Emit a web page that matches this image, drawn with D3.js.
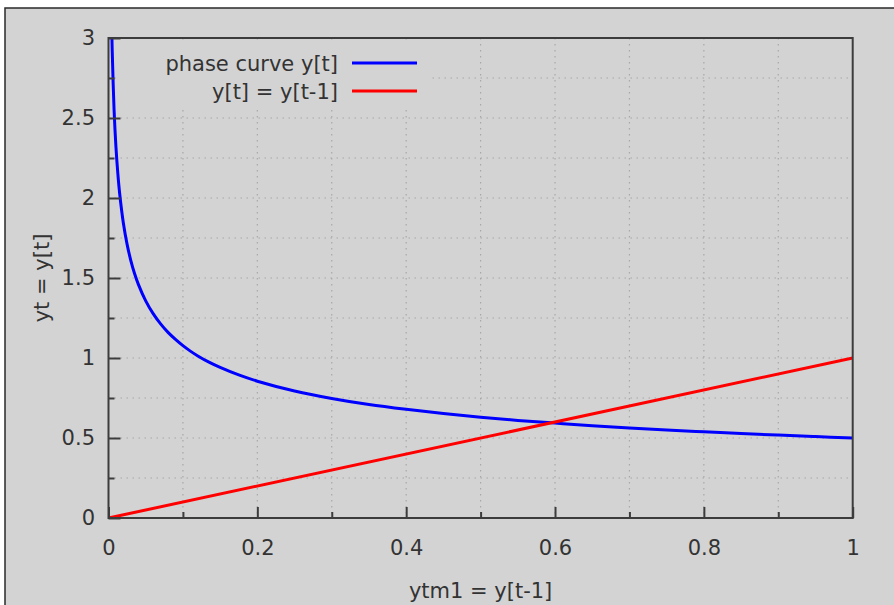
<!DOCTYPE html>
<html>
<head>
<meta charset="utf-8">
<script src="https://cdn.jsdelivr.net/npm/d3@7"></script>
<style>
  html, body { margin: 0; padding: 0; background: #ffffff; }
  svg { display: block; }
  text { font-family: "DejaVu Sans", sans-serif; fill: #333333; }
</style>
</head>
<body>
<div id="chart"></div>
<script>
// ---- data ----
const phaseX = [0.0045, 0.005, 0.0075, 0.01, 0.0125, 0.015, 0.02, 0.025, 0.03, 0.035, 0.04, 0.05, 0.06, 0.07, 0.08, 0.09, 0.10, 0.11, 0.12, 0.135, 0.15, 0.175, 0.20, 0.25, 0.30, 0.35, 0.40, 0.45, 0.50, 0.55, 0.60, 0.65, 0.70, 0.75, 0.80, 0.85, 0.90, 0.95, 1.00];
const phaseY = [3.03, 2.92, 2.55, 2.32, 2.155, 2.028, 1.842, 1.71, 1.609, 1.528, 1.462, 1.357, 1.277, 1.213, 1.160, 1.116, 1.077, 1.043, 1.013, 0.974, 0.941, 0.894, 0.855, 0.794, 0.747, 0.709, 0.679, 0.653, 0.630, 0.610, 0.593, 0.577, 0.563, 0.550, 0.539, 0.528, 0.518, 0.509, 0.500];
const diagX = [0, 1];
const diagY = [0, 1];
const seriesNames = ["phase curve y[t]", "y[t] = y[t-1]"];
const seriesColors = ["#0000ff", "#ff0000"];
const xMajorTicks = [0, 0.2, 0.4, 0.6, 0.8, 1];
const xMinorTicks = [0.1, 0.3, 0.5, 0.7, 0.9];
const yMajorTicks = [0, 0.5, 1, 1.5, 2, 2.5, 3];
const yMinorTicks = [0.25, 0.75, 1.25, 1.75, 2.25, 2.75];
const xTitle = "ytm1 = y[t-1]";
const yTitle = "yt = y[t]";

(function () {
const W = 894, H = 605;
const pL = 108.5, pR = 852.7, pT = 38, pB = 518;
const bg = "#d3d3d3";

const svg = d3.select("#chart").append("svg").attr("width", W).attr("height", H);

// outer panel
svg.append("rect").attr("x", 5).attr("y", 8).attr("width", W + 10).attr("height", H + 10)
  .attr("fill", bg).attr("stroke", "#2a2a2a").attr("stroke-width", 1.5);

const x = d3.scaleLinear().domain([0, 1]).range([pL, pR]);
const y = d3.scaleLinear().domain([0, 3]).range([pB, pT]);

// grid (dotted) at all major + minor positions
const gridX = xMajorTicks.concat(xMinorTicks).filter(v => v > 0 && v < 1);
const gridY = yMajorTicks.concat(yMinorTicks).filter(v => v > 0 && v < 3);
const grid = svg.append("g").attr("stroke", "#a8a8a8").attr("stroke-width", 1.2)
  .attr("stroke-dasharray", "1.5,4.5");
grid.selectAll("line.gx").data(gridX).join("line").attr("class", "gx")
  .attr("x1", d => x(d)).attr("x2", d => x(d)).attr("y1", pT).attr("y2", pB);
grid.selectAll("line.gy").data(gridY).join("line").attr("class", "gy")
  .attr("y1", d => y(d)).attr("y2", d => y(d)).attr("x1", pL).attr("x2", pR);

// legend background (hides grid under the key)
svg.append("rect").attr("x", 117).attr("y", 42).attr("width", 311).attr("height", 68).attr("fill", bg);

// clip for curves
svg.append("clipPath").attr("id", "plotclip").append("rect")
  .attr("x", pL).attr("y", pT).attr("width", pR - pL).attr("height", pB - pT);

const smooth = d3.line().x(d => x(d[0])).y(d => y(d[1])).curve(d3.curveCatmullRom.alpha(0.5));
const straight = d3.line().x(d => x(d[0])).y(d => y(d[1]));
const phaseData = phaseX.map((v, i) => [v, phaseY[i]]);
const diagData = diagX.map((v, i) => [v, diagY[i]]);

const curves = svg.append("g").attr("clip-path", "url(#plotclip)");
curves.append("path").datum(phaseData).attr("d", smooth).attr("fill", "none")
  .attr("stroke", seriesColors[0]).attr("stroke-width", 3).attr("stroke-linejoin", "round");
curves.append("path").datum(diagData).attr("d", straight).attr("fill", "none")
  .attr("stroke", seriesColors[1]).attr("stroke-width", 3);

// axes with inward ticks
const axisColor = "#3c3c3c";
const xAxisMajor = d3.axisBottom(x).tickValues(xMajorTicks).tickSize(-11).tickPadding(22)
  .tickFormat(d3.format("~g"));
const xAxisMinor = d3.axisBottom(x).tickValues(xMinorTicks).tickSize(-6).tickFormat("");
const yAxisMajor = d3.axisLeft(y).tickValues(yMajorTicks).tickSize(-12).tickPadding(13.5)
  .tickFormat(d3.format("~g"));
const yAxisMinor = d3.axisLeft(y).tickValues(yMinorTicks).tickSize(-6).tickFormat("");

function styleAxis(g) {
  g.select(".domain").remove();
  g.selectAll(".tick line").attr("stroke", axisColor).attr("stroke-width", 2);
  g.selectAll(".tick text").attr("fill", "#333333").style("font-size", "21px")
    .style("font-family", "'DejaVu Sans', sans-serif");
}
svg.append("g").attr("transform", `translate(0,${pB})`).call(xAxisMinor).call(styleAxis);
svg.append("g").attr("transform", `translate(0,${pB})`).call(xAxisMajor).call(styleAxis);
svg.append("g").attr("transform", `translate(${pL},0)`).call(yAxisMinor).call(styleAxis);
svg.append("g").attr("transform", `translate(${pL},0)`).call(yAxisMajor).call(styleAxis);

// frame
svg.append("rect").attr("x", pL).attr("y", pT).attr("width", pR - pL).attr("height", pB - pT)
  .attr("fill", "none").attr("stroke", axisColor).attr("stroke-width", 2);

// legend
const legendRows = [64, 92];
seriesNames.forEach((name, i) => {
  svg.append("text").attr("x", 338).attr("y", legendRows[i]).attr("text-anchor", "end")
    .attr("dominant-baseline", "central").style("font-size", "21px").text(name);
  svg.append("line").attr("x1", 352).attr("x2", 417).attr("y1", legendRows[i] - 1).attr("y2", legendRows[i] - 1)
    .attr("stroke", seriesColors[i]).attr("stroke-width", 3);
});

// axis titles
svg.append("text").attr("x", (pL + pR) / 2).attr("y", 591).attr("text-anchor", "middle")
  .attr("dominant-baseline", "central").style("font-size", "21px").text(xTitle);
svg.append("text").attr("transform", `translate(42,${(pT + pB) / 2}) rotate(-90)`)
  .attr("text-anchor", "middle").attr("dominant-baseline", "central").style("font-size", "21px").text(yTitle);
})();
</script>
</body>
</html>
